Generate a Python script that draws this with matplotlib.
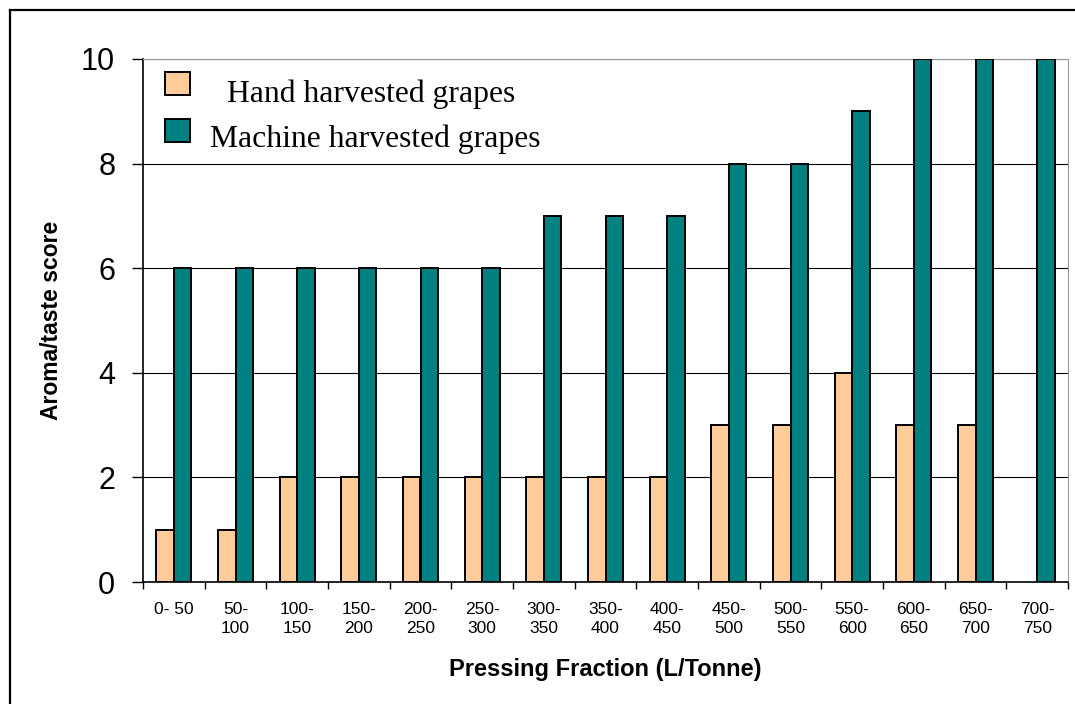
import numpy as np
import matplotlib.pyplot as plt
from matplotlib.patches import Rectangle
from matplotlib.lines import Line2D

# pressing fractions (L/Tonne) and aroma/taste scores
fractions = ['0- 50', '50-\n100', '100-\n150', '150-\n200', '200-\n250', '250-\n300',
             '300-\n350', '350-\n400', '400-\n450', '450-\n500', '500-\n550',
             '550-\n600', '600-\n650', '650-\n700', '700-\n750']
hand_scores = [1, 1, 2, 2, 2, 2, 2, 2, 2, 3, 3, 4, 3, 3, np.nan]
machine_scores = [6, 6, 6, 6, 6, 6, 7, 7, 7, 8, 8, 9, 10, 10, 10]

hand_color = '#FFCC99'
machine_color = '#008080'

fig = plt.figure(figsize=(10.75, 7.04), dpi=100)
ax = fig.add_axes([143 / 1075, 1 - 582 / 704, (1068 - 143) / 1075, (582 - 59) / 704])

x = np.arange(len(fractions)) + 0.5
w = 0.285
ax.bar(x - w / 2, hand_scores, w, color=hand_color, edgecolor='black', linewidth=1.4, zorder=3)
ax.bar(x + w / 2, machine_scores, w, color=machine_color, edgecolor='black', linewidth=1.4, zorder=3)

ax.set_xlim(0, len(fractions))
ax.set_ylim(0, 10)
ax.set_yticks(range(0, 11, 2))
ax.set_yticklabels([str(v) for v in range(0, 11, 2)], fontsize=22, family='Liberation Sans')
ax.tick_params(axis='y', direction='out', length=8, width=1, pad=12)

# ticks at category boundaries, labels centered in categories
ax.set_xticks(np.arange(len(fractions) + 1))
ax.set_xticklabels([])
ax.set_xticks(x, minor=True)
ax.set_xticklabels(fractions, minor=True, fontsize=12.5, family='Liberation Sans', linespacing=1.35)
ax.tick_params(axis='x', which='major', direction='out', length=5, width=1)
ax.tick_params(axis='x', which='minor', length=0, pad=14.5)

ax.yaxis.grid(True, color='black', linewidth=0.8, zorder=0)
ax.set_axisbelow(True)
for s in ['top', 'right']:
    ax.spines[s].set_color('#999999')
for s in ['left', 'bottom']:
    ax.spines[s].set_color('black')
    ax.spines[s].set_linewidth(1.2)

ax.set_xlabel('Pressing Fraction (L/Tonne)', fontsize=17, fontweight='bold', family='Liberation Sans')
ax.xaxis.set_label_coords(0.5, -(658 - 582) / 523)
ax.set_ylabel('Aroma/taste score', fontsize=16.5, fontweight='bold', family='Liberation Sans')
ax.yaxis.set_label_coords(-(143 - 63) / 925, 0.5)

# legend drawn by hand to match the offsets
def px(xp, yp):
    return xp / 1075, 1 - yp / 704

for (xp, yp), c in [((165, 95), hand_color), ((165, 142), machine_color)]:
    fx, fy = px(xp, yp)
    fig.patches.append(Rectangle((fx, fy), 25 / 1075, 23 / 704, transform=fig.transFigure,
                                 facecolor=c, edgecolor='black', linewidth=1.4))
fig.text(*px(227, 102), 'Hand harvested grapes', fontsize=22.8, family='Liberation Serif', va='baseline')
fig.text(*px(210, 147), 'Machine harvested grapes', fontsize=22.8, family='Liberation Serif', va='baseline')

# outer chart frame
fig.lines.append(Line2D([10 / 1075, 10 / 1075], [0, 1 - 10 / 704], transform=fig.transFigure,
                        color='black', linewidth=1.6))
fig.lines.append(Line2D([10 / 1075, 1], [1 - 10 / 704, 1 - 10 / 704], transform=fig.transFigure,
                        color='black', linewidth=1.6))

fig.savefig('out.png', dpi=100)
